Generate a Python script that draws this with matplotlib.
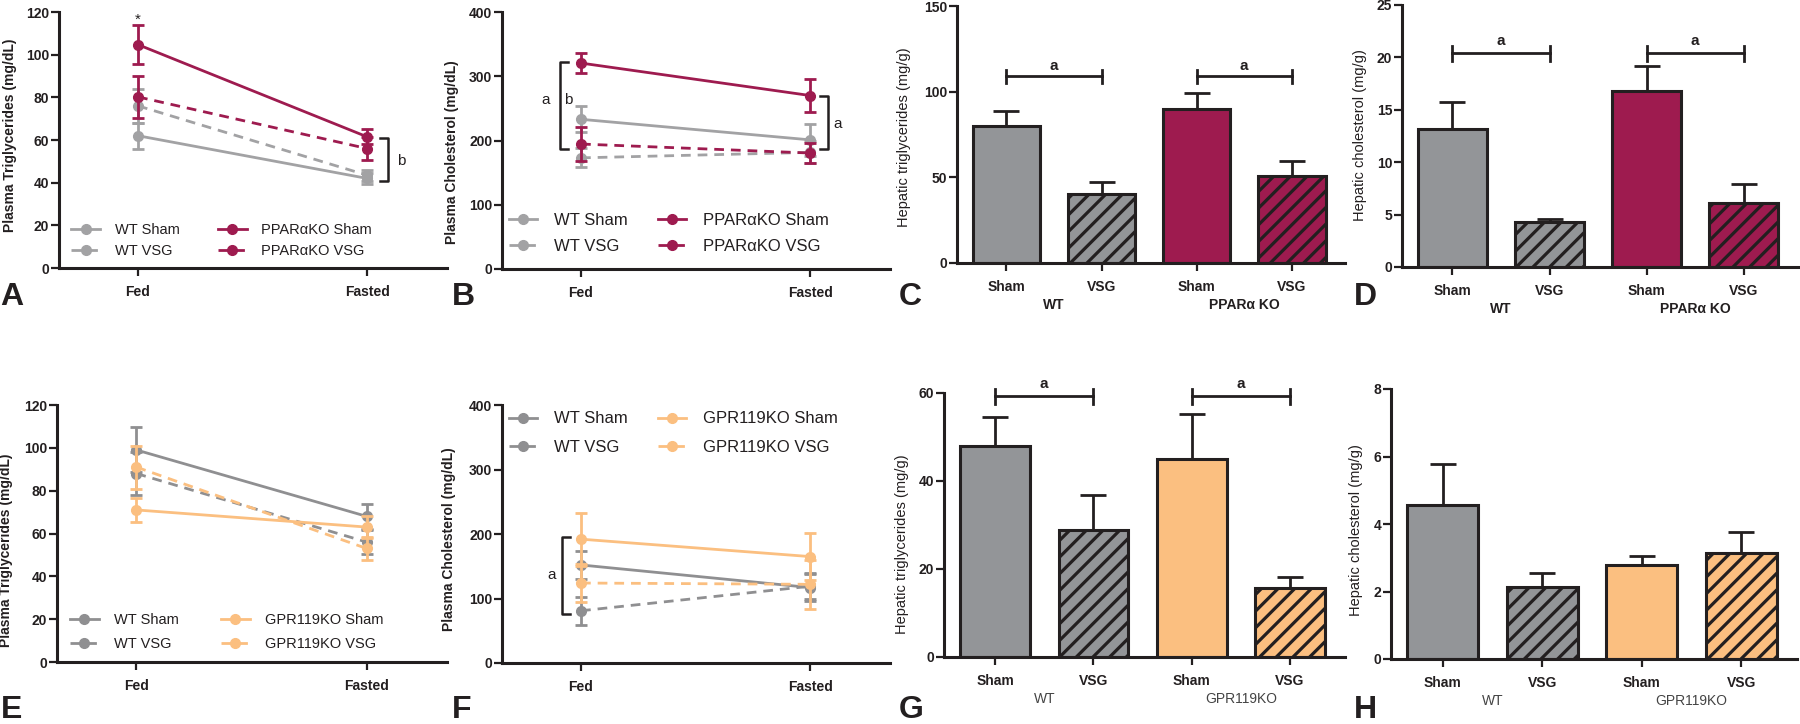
import numpy as np
import matplotlib
matplotlib.use('Agg')
import matplotlib.pyplot as plt

plt.rcParams['font.family'] = ['Liberation Sans', 'DejaVu Sans']
plt.rcParams['hatch.linewidth'] = 2.3

INK = '#231f20'
GREY_LINE = '#a2a2a4'
GREY_LINE2 = '#8f8f91'
GREY_BAR = '#939598'
CRIMSON = '#9e1b4f'
ORANGE = '#fbbf80'

conditions = ['Fed', 'Fasted']
bar_labels = ['Sham', 'VSG', 'Sham', 'VSG']

# A - plasma triglycerides (PPARa KO cohort)
a_wt_sham, a_wt_sham_err = [62, 42], [6, 2.5]
a_wt_vsg, a_wt_vsg_err = [76, 43.5], [8, 2.5]
a_ko_sham, a_ko_sham_err = [104.7, 61.5], [9, 3.5]
a_ko_vsg, a_ko_vsg_err = [80.2, 56], [10, 5.5]

# B - plasma cholesterol (PPARa KO cohort)
b_wt_sham, b_wt_sham_err = [233, 201], [20, 25]
b_wt_vsg, b_wt_vsg_err = [173, 181.5], [15, 17]
b_ko_sham, b_ko_sham_err = [320.5, 270], [16, 25]
b_ko_vsg, b_ko_vsg_err = [194.5, 180.5], [26, 15]

# C - hepatic triglycerides (PPARa KO cohort)
c_vals = [80, 40.5, 90, 51]
c_err = [9, 6.5, 9, 8.5]

# D - hepatic cholesterol (PPARa KO cohort)
d_vals = [13.2, 4.3, 16.8, 6.15]
d_err = [2.5, 0.3, 2.4, 1.75]

# E - plasma triglycerides (GPR119 KO cohort)
e_wt_sham, e_wt_sham_err = [99, 68], [10.5, 6]
e_wt_vsg, e_wt_vsg_err = [88, 56], [10, 5.5]
e_ko_sham, e_ko_sham_err = [71, 63], [5.5, 5]
e_ko_vsg, e_ko_vsg_err = [91, 53], [10, 5.5]

# F - plasma cholesterol (GPR119 KO cohort)
f_wt_sham, f_wt_sham_err = [152, 117], [22, 21]
f_wt_vsg, f_wt_vsg_err = [81, 119], [22, 20]
f_ko_sham, f_ko_sham_err = [192, 165], [41, 37]
f_ko_vsg, f_ko_vsg_err = [124, 122], [29, 38]

# G - hepatic triglycerides (GPR119 KO cohort)
g_vals = [47.9, 28.8, 45.1, 15.7]
g_err = [6.6, 8.1, 10.1, 2.5]

# H - hepatic cholesterol (GPR119 KO cohort)
h_vals = [4.56, 2.14, 2.8, 3.13]
h_err = [1.22, 0.41, 0.26, 0.64]

# significance marks: (x, y_low, y_high, side, letter, letter_x, letter_y)
a_brackets = [(1.09, 40.8, 60.8, 'right', 'b', 1.15, 50)]
b_brackets = [(-0.092, 186, 322, 'left', 'a', -0.155, 263),
              (1.079, 186, 270, 'right', 'a', 1.12, 226)]
b_extra_letters = [('b', -0.055, 263)]
f_brackets = [(-0.083, 76, 195, 'left', 'a', -0.128, 136)]
c_sig = [(0, 1, 109), (2, 3, 109)]
d_sig = [(0, 1, 20.4), (2, 3, 20.4)]
g_sig = [(0, 1, 59.3), (2, 3, 59.3)]


def style_axes(ax, ylim, yticks):
    ax.spines['top'].set_visible(False)
    ax.spines['right'].set_visible(False)
    for s in ['left', 'bottom']:
        ax.spines[s].set_linewidth(2.2)
        ax.spines[s].set_color(INK)
    ax.set_ylim(*ylim)
    ax.set_yticks(yticks)
    ax.tick_params(axis='y', length=6, width=1.6, color=INK, pad=1,
                   labelsize=10, labelcolor=INK)
    ax.tick_params(axis='x', length=6, width=1.6, color=INK, pad=6,
                   labelsize=10, labelcolor=INK)
    for lab in ax.get_yticklabels() + ax.get_xticklabels():
        lab.set_fontweight('bold')


def line_panel(ax, series, ylim, yticks, ylabel, label_pos, leg):
    x = np.arange(len(conditions))
    for label, vals, errs, color, ls in series:
        ax.errorbar(x, vals, yerr=errs, fmt='none', ecolor=color,
                    elinewidth=2, capsize=4.5, capthick=2, clip_on=False)
        ax.plot(x, vals, color=color, ls=ls, lw=2, marker='o', ms=7,
                label=label, clip_on=False,
                dashes=(3.5, 2.5) if ls == '--' else (None, None))
    ax.set_xlim(-0.345, 1.349)
    ax.set_xticks(x, conditions)
    style_axes(ax, ylim, yticks)
    ax.set_ylabel(ylabel, fontsize=10, fontweight='bold', color=INK)
    ax.yaxis.set_label_coords(*label_pos)
    ax.legend(ncol=2, frameon=False, loc='center left', numpoints=1,
              bbox_to_anchor=leg['anchor'], borderpad=0, borderaxespad=0,
              fontsize=leg['size'], handlelength=leg['hl'],
              handletextpad=1.0, columnspacing=leg['cs'],
              labelspacing=leg['ls'], labelcolor=INK)


def draw_brackets(ax, brackets, arm):
    for bx, y0, y1, side, letter, lx, ly in brackets:
        d = arm if side == 'left' else -arm
        ax.plot([bx + d, bx, bx, bx + d], [y0, y0, y1, y1], color=INK,
                lw=1.8, clip_on=False)
        ax.text(lx, ly, letter, fontsize=11, color=INK, ha='center',
                va='center')


def bar_panel(ax, vals, errs, colors, ylim, yticks, ylabel, label_pos,
              group_names, group_bold):
    x = np.arange(len(vals))
    hatches = ['', '//', '', '//']
    for xi, v, c, h in zip(x, vals, colors, hatches):
        ax.bar(xi, v, width=0.71, color=c, edgecolor=INK, linewidth=2.2,
               hatch=h, zorder=2)
    ax.errorbar(x, vals, yerr=[np.zeros(len(vals)), errs], fmt='none',
                ecolor=INK, elinewidth=2, capsize=9.5, capthick=2, zorder=3)
    ax.set_xlim(-0.52, 3.56)
    ax.set_xticks(x, bar_labels)
    style_axes(ax, ylim, yticks)
    ax.set_ylabel(ylabel, fontsize=10.5, color=INK)
    ax.yaxis.set_label_coords(*label_pos)
    for gx, name in zip([0.5, 2.5], group_names):
        ax.annotate(name, xy=(gx, 0), xycoords=('data', 'axes fraction'),
                    xytext=(0, -30.5), textcoords='offset points',
                    ha='center', va='center', fontsize=10,
                    fontweight='bold' if group_bold else 'normal',
                    color=INK if group_bold else '#444444')


def draw_sig(ax, sigs, tick):
    for x0, x1, y in sigs:
        ax.plot([x0, x1], [y, y], color=INK, lw=2, clip_on=False)
        for xe in (x0, x1):
            ax.plot([xe, xe], [y - tick, y + tick], color=INK, lw=2,
                    clip_on=False)
        ax.text((x0 + x1) / 2, y + tick * 1.6, 'a', fontsize=11,
                fontweight='bold', ha='center', va='center', color=INK)


fig = plt.figure(figsize=(18, 7.24), dpi=100)
W, H = 1800, 724


def add_axes(x0, x1, ytop, ybot):
    return fig.add_axes([x0 / W, 1 - ybot / H, (x1 - x0) / W, (ybot - ytop) / H])


axA = add_axes(59, 447, 12, 268)
axB = add_axes(502, 890, 12, 269)
axC = add_axes(957, 1345, 6, 263)
axD = add_axes(1402, 1798, 5, 267)
axE = add_axes(57, 447, 405, 662)
axF = add_axes(502, 890, 405, 663)
axG = add_axes(944, 1345, 393, 657)
axH = add_axes(1391, 1797, 389, 659)

small_leg = dict(size=10.5, hl=2.0, cs=2.6, ls=0.5)
big_leg = dict(size=12, hl=1.7, cs=1.8, ls=0.65)

line_panel(axA, [('WT Sham', a_wt_sham, a_wt_sham_err, GREY_LINE, '-'),
                 ('WT VSG', a_wt_vsg, a_wt_vsg_err, GREY_LINE, '--'),
                 ('PPAR\u03b1KO Sham', a_ko_sham, a_ko_sham_err, CRIMSON, '-'),
                 ('PPAR\u03b1KO VSG', a_ko_vsg, a_ko_vsg_err, CRIMSON, '--')],
           (0, 120), range(0, 121, 20), 'Plasma Triglycerides (mg/dL)',
           (-0.108, 0.52), dict(small_leg, anchor=(0.031, 0.107)))
axA.text(0, 116.5, '*', fontsize=11, ha='center', va='center', color=INK)
draw_brackets(axA, a_brackets, 0.035)

line_panel(axB, [('WT Sham', b_wt_sham, b_wt_sham_err, GREY_LINE, '-'),
                 ('WT VSG', b_wt_vsg, b_wt_vsg_err, GREY_LINE, '--'),
                 ('PPAR\u03b1KO Sham', b_ko_sham, b_ko_sham_err, CRIMSON, '-'),
                 ('PPAR\u03b1KO VSG', b_ko_vsg, b_ko_vsg_err, CRIMSON, '--')],
           (0, 400), range(0, 401, 100), 'Plasma Cholesterol (mg/dL)',
           (-0.111, 0.455), dict(big_leg, anchor=(0.018, 0.138)))
draw_brackets(axB, b_brackets, 0.035)
for letter, lx, ly in b_extra_letters:
    axB.text(lx, ly, letter, fontsize=11, color=INK, ha='center', va='center')

line_panel(axE, [('WT Sham', e_wt_sham, e_wt_sham_err, GREY_LINE2, '-'),
                 ('WT VSG', e_wt_vsg, e_wt_vsg_err, GREY_LINE2, '--'),
                 ('GPR119KO Sham', e_ko_sham, e_ko_sham_err, ORANGE, '-'),
                 ('GPR119KO VSG', e_ko_vsg, e_ko_vsg_err, ORANGE, '--')],
           (0, 120), range(0, 121, 20), 'Plasma Triglycerides (mg/dL)',
           (-0.113, 0.436), dict(small_leg, anchor=(0.033, 0.117), cs=2.9, ls=0.68))

line_panel(axF, [('WT Sham', f_wt_sham, f_wt_sham_err, GREY_LINE2, '-'),
                 ('WT VSG', f_wt_vsg, f_wt_vsg_err, GREY_LINE2, '--'),
                 ('GPR119KO Sham', f_ko_sham, f_ko_sham_err, ORANGE, '-'),
                 ('GPR119KO VSG', f_ko_vsg, f_ko_vsg_err, ORANGE, '--')],
           (0, 400), range(0, 401, 100), 'Plasma Cholesterol (mg/dL)',
           (-0.119, 0.48), dict(big_leg, anchor=(0.018, 0.891), ls=0.8))
draw_brackets(axF, f_brackets, 0.035)

ko_a = 'PPAR\u03b1 KO'
bar_panel(axC, c_vals, c_err, [GREY_BAR, GREY_BAR, CRIMSON, CRIMSON],
          (0, 150), [0, 50, 100, 150], 'Hepatic triglycerides (mg/g)',
          (-0.119, 0.488), ['WT', ko_a], True)
draw_sig(axC, c_sig, 3.8)

bar_panel(axD, d_vals, d_err, [GREY_BAR, GREY_BAR, CRIMSON, CRIMSON],
          (0, 25), range(0, 26, 5), 'Hepatic cholesterol (mg/g)',
          (-0.088, 0.504), ['WT', ko_a], True)
draw_sig(axD, d_sig, 0.7)

bar_panel(axG, g_vals, g_err, [GREY_BAR, GREY_BAR, ORANGE, ORANGE],
          (0, 60), range(0, 61, 20), 'Hepatic triglycerides (mg/g)',
          (-0.087, 0.426), ['WT', 'GPR119KO'], False)
draw_sig(axG, g_sig, 1.7)

bar_panel(axH, h_vals, h_err, [GREY_BAR, GREY_BAR, ORANGE, ORANGE],
          (0, 8), range(0, 9, 2), 'Hepatic cholesterol (mg/g)',
          (-0.069, 0.478), ['WT', 'GPR119KO'], False)

# panel letters
for letter, px, py in [('A', 0, 305), ('B', 452, 305), ('C', 899, 305),
                       ('D', 1354, 305), ('E', 1, 718), ('F', 452, 718),
                       ('G', 899, 718), ('H', 1354, 718)]:
    fig.text(px / W, 1 - py / H, letter, fontsize=23, fontweight='bold',
             color=INK, ha='left', va='baseline')

fig.savefig('out.png', dpi=100)
